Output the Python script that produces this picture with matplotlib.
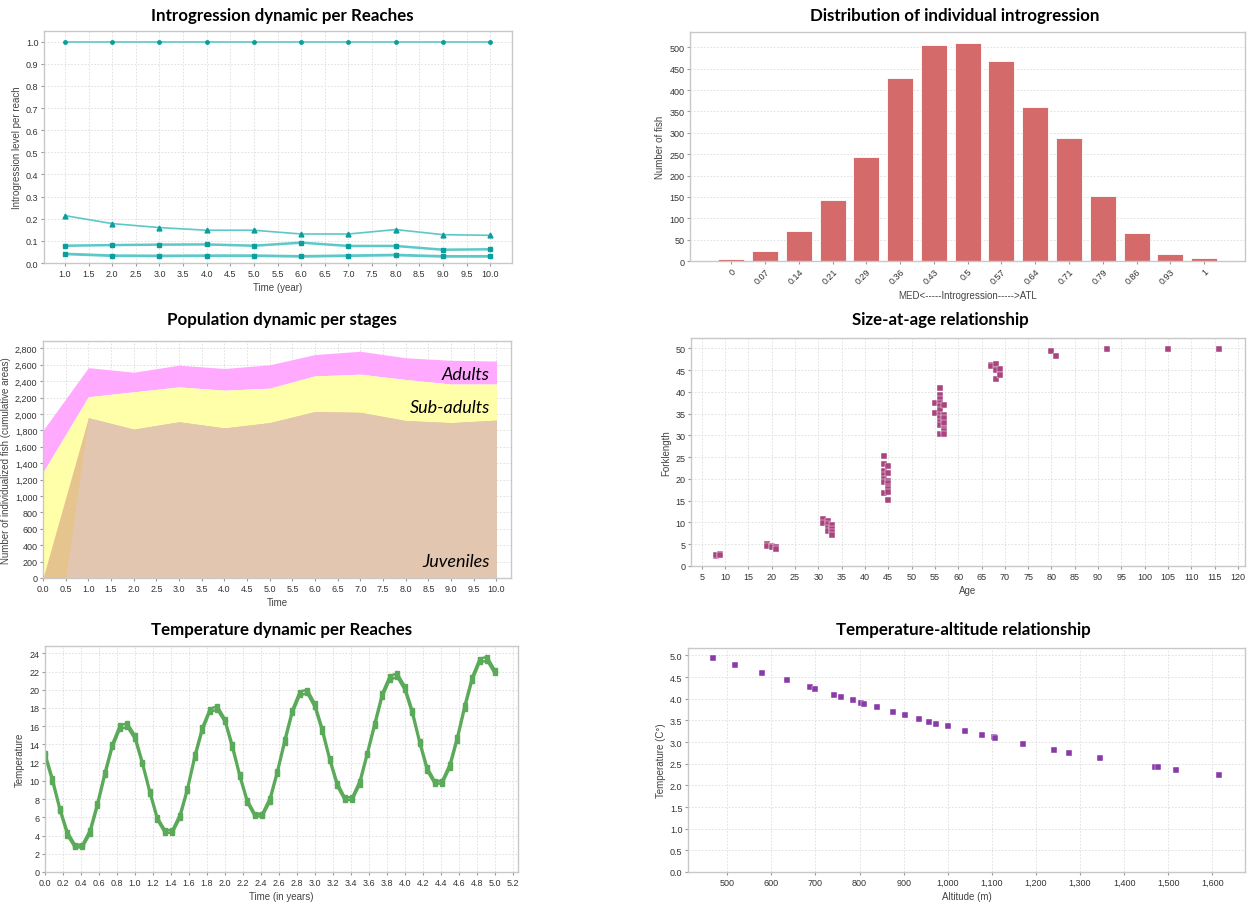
import numpy as np
import matplotlib
matplotlib.use("Agg")
import matplotlib.pyplot as plt
from matplotlib.ticker import MultipleLocator, FuncFormatter

plt.rcParams['font.family'] = ['Liberation Sans', 'DejaVu Sans']

# ---- data ----
# introgression per reach
years = [1, 2, 3, 4, 5, 6, 7, 8, 9, 10]
reach_a = [1.0, 1.0, 1.0, 1.0, 1.0, 1.0, 1.0, 1.0, 1.0, 1.0]
reach_b = [0.214, 0.178, 0.160, 0.148, 0.148, 0.131, 0.131, 0.151, 0.128, 0.125]
reach_c = [0.078, 0.081, 0.083, 0.084, 0.078, 0.092, 0.077, 0.077, 0.060, 0.062]
reach_d = [0.041, 0.033, 0.032, 0.033, 0.033, 0.030, 0.033, 0.036, 0.030, 0.030]

# distribution of individual introgression
intro_bins = ['0', '0.07', '0.14', '0.21', '0.29', '0.36', '0.43', '0.5',
              '0.57', '0.64', '0.71', '0.79', '0.86', '0.93', '1']
fish_counts = [4, 23, 70, 142, 243, 428, 505, 510, 467, 361, 287, 152, 65, 17, 6]

# population per stage
pop_time = [0, 1, 2, 3, 4, 5, 6, 7, 8, 9, 10]
juveniles = [0, 1955, 1815, 1905, 1830, 1895, 2030, 2020, 1920, 1895, 1925]
subadults = [1290, 255, 455, 425, 460, 420, 435, 465, 500, 470, 440]
adults = [510, 355, 240, 265, 265, 285, 260, 280, 265, 290, 280]
juv_start = 0.5

# size at age
ages = [8, 8, 9, 9,
        19, 19, 20, 20, 21, 21,
        31, 31, 32, 32, 32, 32, 33, 33, 33, 33,
        44, 44, 44, 44, 44, 44, 44, 45, 45, 45, 45, 45, 45, 45, 45,
        55, 55, 56, 56, 56, 56, 56, 56, 56, 56, 56, 56, 56, 57, 57, 57, 57, 57, 57, 57,
        67, 67, 68, 68, 68, 69, 69,
        80, 81, 92, 105, 116]
forklength = [2.4, 2.6, 2.8, 2.6,
              5.0, 4.6, 4.7, 4.3, 4.4, 3.9,
              10.7, 9.8, 10.4, 9.6, 8.8, 8.0, 9.4, 8.6, 7.8, 7.1,
              25.3, 23.5, 21.9, 20.9, 20.0, 19.2, 16.7, 23.0, 21.3, 19.6, 19.0, 18.2, 17.7, 16.9, 15.1,
              37.5, 35.2, 40.9, 39.4, 38.4, 37.5, 36.7, 35.9, 34.6, 33.9, 33.2, 32.4, 30.4,
              37.0, 34.6, 33.9, 32.9, 31.6, 31.1, 30.4,
              46.3, 45.9, 46.5, 45.1, 42.9, 45.3, 43.8,
              49.3, 48.2, 49.9, 49.9, 49.9]

# temperature per reach (monthly)
temp_time = [i / 12 for i in range(61)]
temp_a = [13.1, 10.3, 7.0, 4.4, 3.0, 3.0, 4.6, 7.6, 11.0, 14.1, 16.1, 16.3,
          15.0, 12.1, 8.9, 6.0, 4.6, 4.6, 6.3, 9.2, 12.9, 15.9, 17.9, 18.2,
          16.8, 14.0, 10.7, 7.9, 6.4, 6.4, 8.1, 11.1, 14.6, 17.8, 19.8, 20.0,
          18.5, 15.8, 12.5, 9.8, 8.2, 8.2, 10.0, 13.1, 16.4, 19.6, 21.5, 21.8,
          20.4, 17.8, 14.4, 11.5, 10.0, 10.0, 11.8, 14.8, 18.3, 21.4, 23.4, 23.6,
          22.2]
temp_b = [12.7, 9.9, 6.7, 4.0, 2.7, 2.7, 4.2, 7.2, 10.6, 13.7, 15.7, 15.9,
          14.6, 11.8, 8.6, 5.7, 4.3, 4.3, 5.9, 8.9, 12.5, 15.5, 17.6, 17.8,
          16.5, 13.6, 10.4, 7.6, 6.1, 6.1, 7.7, 10.8, 14.2, 17.4, 19.4, 19.6,
          18.1, 15.4, 12.2, 9.4, 7.9, 7.9, 9.6, 12.8, 16.0, 19.2, 21.1, 21.4,
          20.0, 17.4, 14.1, 11.1, 9.7, 9.7, 11.4, 14.4, 17.9, 21.0, 23.0, 23.2,
          21.8]

# temperature vs altitude
altitude = [468, 518, 579, 636, 687, 700, 742, 759, 786, 804, 811, 840, 876,
            904, 934, 958, 974, 1000, 1040, 1077, 1105, 1108, 1171, 1240,
            1276, 1346, 1469, 1476, 1518, 1615]
alt_temp = [4.94, 4.78, 4.59, 4.42, 4.26, 4.22, 4.09, 4.04, 3.96, 3.91, 3.88,
            3.80, 3.69, 3.62, 3.53, 3.47, 3.42, 3.36, 3.26, 3.17, 3.11, 3.09,
            2.95, 2.81, 2.75, 2.62, 2.42, 2.42, 2.35, 2.25]

W, H = 1251, 903
fig = plt.figure(figsize=(W / 100, H / 100), dpi=100)
fig.patch.set_facecolor('white')

title_font = dict(family=['Lato', 'DejaVu Sans'], weight='bold', size=12.2)
comma = FuncFormatter(lambda v, p: f"{int(round(v)):,}")


def make_axes(l, r, t, b):
    ax = fig.add_axes([l / W, 1 - b / H, (r - l) / W, (b - t) / H])
    ax.grid(True, color='#dcdcdc', linestyle=(0, (2, 2)), linewidth=0.6)
    ax.set_axisbelow(True)
    for s in ax.spines.values():
        s.set_color('#c8c8c8')
        s.set_linewidth(1.0)
    ax.tick_params(labelsize=6.5, length=2, color='#999999', labelcolor='#333333', pad=2)
    return ax


def label(ax, xl, yl):
    ax.set_xlabel(xl, fontsize=7, color='#444444', labelpad=3)
    ax.set_ylabel(yl, fontsize=7, color='#444444', labelpad=3)


# ---- panel 1 ----
ax1 = make_axes(44, 512, 32, 264)
line_c, mark_c = '#5cc8c8', '#0a9e9e'
ax1.plot(years, reach_a, '-o', color=line_c, mfc=mark_c, mec=mark_c, ms=2.5, lw=1.2)
ax1.plot(years, reach_b, '-^', color=line_c, mfc=mark_c, mec=mark_c, ms=3.5, lw=1.2)
ax1.plot(years, reach_c, '-s', color=line_c, mfc=mark_c, mec=mark_c, ms=3, lw=1.8)
ax1.plot(years, reach_d, '-s', color=line_c, mfc=mark_c, mec=mark_c, ms=3.5, lw=2.0)
ax1.set_xlim(0.557, 10.46)
ax1.set_ylim(0, 1.048)
ax1.xaxis.set_major_locator(MultipleLocator(0.5))
ax1.yaxis.set_major_locator(MultipleLocator(0.1))
ax1.xaxis.set_major_formatter(FuncFormatter(lambda v, p: f"{v:.1f}"))
ax1.yaxis.set_major_formatter(FuncFormatter(lambda v, p: f"{v:.1f}"))
label(ax1, 'Time (year)', 'Introgression level per reach')
fig.text(282 / W, 1 - 16 / H, 'Introgression dynamic per Reaches', ha='center', va='center', **title_font)

# ---- panel 2 ----
ax2 = make_axes(690, 1245, 33, 262)
xpos = np.arange(len(intro_bins))
ax2.bar(xpos, fish_counts, width=0.77, color='#d46a6a', edgecolor='white', linewidth=0.6)
ax2.set_xlim(-1.22, 15.21)
ax2.set_ylim(0, 536)
ax2.set_xticks(xpos)
ax2.set_xticklabels(intro_bins, rotation=45, ha='right', rotation_mode='anchor')
ax2.yaxis.set_major_locator(MultipleLocator(50))
ax2.xaxis.grid(False)
label(ax2, 'MED<-----Introgression----->ATL', 'Number of fish')
fig.text(955 / W, 1 - 16 / H, 'Distribution of individual introgression', ha='center', va='center', **title_font)

# ---- panel 3 ----
ax3 = make_axes(43, 511, 342, 579)
juv = np.array(juveniles)
sub_top = juv + np.array(subadults)
adu_top = sub_top + np.array(adults)
ax3.fill_between(pop_time, sub_top, adu_top, color='#ffaaff', lw=0)
ax3.fill_between(pop_time, 0, sub_top, color='#ffffaa', lw=0)
ax3.fill_between(pop_time, 0, juv, color='#e6c48e', lw=0)
ax3.fill_between([juv_start] + pop_time[1:], 0, [0] + juveniles[1:], color='#e3c6b0', lw=0)
ax3.set_xlim(0, 10.32)
ax3.set_ylim(0, 2890)
ax3.xaxis.set_major_locator(MultipleLocator(0.5))
ax3.yaxis.set_major_locator(MultipleLocator(200))
ax3.xaxis.set_major_formatter(FuncFormatter(lambda v, p: f"{v:.1f}"))
ax3.yaxis.set_major_formatter(comma)
label(ax3, 'Time', 'Number of individualized fish (cumulative areas)')
stage_font = dict(family=['Lato', 'DejaVu Sans'], style='italic', size=13, ha='right', va='center')
ax3.text(0.955, 0.86, 'Adults', transform=ax3.transAxes, **stage_font)
ax3.text(0.955, 0.72, 'Sub-adults', transform=ax3.transAxes, **stage_font)
ax3.text(0.955, 0.07, 'Juveniles', transform=ax3.transAxes, **stage_font)
fig.text(282 / W, 1 - 320 / H, 'Population dynamic per stages', ha='center', va='center', **title_font)

# ---- panel 4 ----
ax4 = make_axes(691, 1245, 339, 567)
ax4.scatter(ages, forklength, marker='s', s=16, color='#a8457f', edgecolor='white', linewidth=0.3)
ax4.set_xlim(2.7, 121.5)
ax4.set_ylim(0, 52.4)
ax4.xaxis.set_major_locator(MultipleLocator(5))
ax4.yaxis.set_major_locator(MultipleLocator(5))
label(ax4, 'Age', 'Forklength')
fig.text(940 / W, 1 - 320 / H, 'Size-at-age relationship', ha='center', va='center', **title_font)

# ---- panel 5 ----
ax5 = make_axes(45, 518, 647, 873)
green = '#5aaa5a'
ax5.plot(temp_time, temp_a, '-s', color=green, ms=2.5, lw=1.8)
ax5.plot(temp_time, temp_b, '-s', color=green, ms=2.5, lw=1.8)
ax5.set_xlim(0, 5.26)
ax5.set_ylim(0, 24.8)
ax5.xaxis.set_major_locator(MultipleLocator(0.2))
ax5.yaxis.set_major_locator(MultipleLocator(2))
ax5.xaxis.set_major_formatter(FuncFormatter(lambda v, p: f"{v:.1f}"))
label(ax5, 'Time (in years)', 'Temperature')
fig.text(282 / W, 1 - 630 / H, 'Temperature dynamic per Reaches', ha='center', va='center', **title_font)

# ---- panel 6 ----
ax6 = make_axes(688, 1245, 649, 873)
ax6.scatter(altitude, alt_temp, marker='s', s=14, color='#8a3aa8', edgecolor='white', linewidth=0.3)
ax6.set_xlim(411, 1674)
ax6.set_ylim(0, 5.17)
ax6.xaxis.set_major_locator(MultipleLocator(100))
ax6.yaxis.set_major_locator(MultipleLocator(0.5))
ax6.xaxis.set_major_formatter(comma)
ax6.yaxis.set_major_formatter(FuncFormatter(lambda v, p: f"{v:.1f}"))
label(ax6, 'Altitude (m)', 'Temperature (C°)')
fig.text(963 / W, 1 - 630 / H, 'Temperature-altitude relationship', ha='center', va='center', **title_font)

fig.savefig('out.png', dpi=100, facecolor='white')
